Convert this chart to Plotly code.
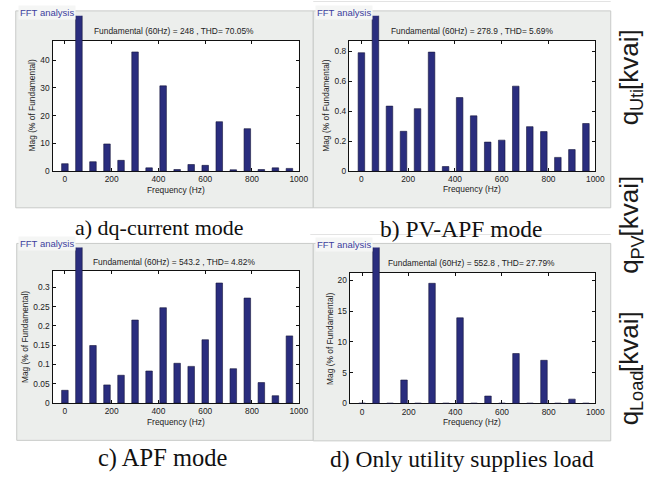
import plotly.graph_objects as go

W, H = 670, 479

# Harmonic orders shown in each FFT window (Hz)
freqs = [0, 60, 120, 180, 240, 300, 360, 420, 480, 540, 600, 660, 720, 780, 840, 900, 960]

# Magnitudes in % of the fundamental (the 60 Hz bar is the 100 % reference)
mag_dq = [2.7, 100, 3.4, 9.8, 3.9, 42.9, 1.2, 30.7, 0.6, 2.4, 2.1, 17.8, 0.5, 15.3, 0.6, 1.2, 1.0]
mag_pv = [0.79, 100, 0.434, 0.266, 0.417, 0.794, 0.031, 0.491, 0.369, 0.194, 0.207, 0.567,
          0.297, 0.264, 0.092, 0.144, 0.318]
mag_apf = [0.033, 100, 0.149, 0.047, 0.072, 0.215, 0.083, 0.247, 0.103, 0.095, 0.164, 0.311,
           0.089, 0.272, 0.053, 0.019, 0.174]
mag_load = [0.05, 100, 0.05, 3.8, 0.05, 19.5, 0.05, 13.9, 0.05, 1.2, 0.05, 8.1, 0.05, 7.0,
            0.05, 0.7, 0.05]

titles = [
    "Fundamental (60Hz) = 248 , THD= 70.05%",
    "Fundamental (60Hz) = 278.9 , THD= 5.69%",
    "Fundamental (60Hz) = 543.2 , THD= 4.82%",
    "Fundamental (60Hz) = 552.8 , THD= 27.79%",
]
captions = ["a) dq-current mode", "b) PV-APF mode", "c) APF mode", "d) Only utility supplies load"]
side_subs = ["Uti", "PV", "Load"]

x_ticks = [0, 200, 400, 600, 800, 1000]
y_ticks = [
    [0, 10, 20, 30, 40],
    [0, 0.2, 0.4, 0.6, 0.8],
    [0, 0.05, 0.1, 0.15, 0.2, 0.25, 0.3],
    [0, 5, 10, 15, 20],
]
y_tick_text = [
    ["0", "10", "20", "30", "40"],
    ["0", "0.2", "0.4", "0.6", "0.8"],
    ["0", "0.05", "0.1", "0.15", "0.2", "0.25", "0.3"],
    ["0", "5", "10", "15", "20"],
]
y_max = [47.0, 0.871, 0.3425, 21.2]
x_range = [-53, 1000]

series = [mag_dq, mag_pv, mag_apf, mag_load]

# ---- page geometry (pixels) ----
# gray window: left, right, top, bottom
windows = [(16, 318, 11, 210), (318, 620, 11, 210), (17, 318, 246, 445), (318, 620, 246, 445.5)]
# axes box: left, right, top, bottom, and top of the drawing area for bars
frames = [
    (53.3, 303.3, 41.0, 173.0, 16.0),
    (354.3, 604.3, 41.0, 173.0, 16.0),
    (53.3, 303.3, 273.7, 407.3, 250.0),
    (355.0, 604.3, 275.7, 407.7, 250.0),
]
label_pos = [(48, 12.5), (349, 12.5), (48, 246), (349, 247)]
title_pos = [(177, 31), (479, 31), (177, 264.3), (479, 265.3)]
ylab_pos = [(32, 107), (330.7, 107), (26, 341), (335, 342.5)]
xlab_pos = [(178.3, 191.7), (479.3, 191.0), (178.3, 426), (479.6, 426)]
cap_pos = [(162, 230), (468, 231), (165, 463), (469, 464)]
cap_size = [22, 23.5, 24.5, 23.5]
side_center_y = [78, 227, 372]
SIDE_X = 638.5
SIDE_SIZE = 26
SUB_SIZE = 18.2


def px(x):
    return x / W


def py(y):
    return 1 - y / H


def arial_width(s, size):
    # approximate Arial advance widths (per 1000 em)
    w = {"q": 556, "[": 278, "]": 278, "k": 500, "v": 500, "a": 556, "i": 222,
         "U": 722, "t": 278, "P": 667, "V": 667, "L": 556, "o": 556, "d": 556}
    return sum(w[c] for c in s) / 1000 * size


SANS = "Liberation Sans, Arial, sans-serif"
SERIF = "Liberation Serif, Times New Roman, serif"
BAR = "#2a2d7e"
PANEL = "#eceeec"

fig = go.Figure()
layout = dict(
    width=W, height=H,
    margin=dict(l=0, r=0, t=0, b=0),
    paper_bgcolor="white",
    plot_bgcolor="rgba(0,0,0,0)",
    showlegend=False,
    shapes=[], annotations=[],
)

# faint image borders
layout["shapes"].append(dict(type="line", xref="paper", yref="paper", layer="below",
                             x0=px(318), x1=px(620), y0=py(1.5), y1=py(1.5),
                             line=dict(color="#e3e3e3", width=1)))
layout["shapes"].append(dict(type="line", xref="paper", yref="paper", layer="below",
                             x0=px(315), x1=px(620), y0=py(237), y1=py(237),
                             line=dict(color="#e3e3e3", width=1)))

for i in range(4):
    k = i + 1
    xa = "x" if k == 1 else f"x{k}"
    ya_frame = "y" if k == 1 else f"y{k}"
    ya_bar = f"y{k + 4}"
    wl, wr, wt, wb = windows[i]
    fl, fr, ft, fb, bt = frames[i]

    # window background and axes box background
    layout["shapes"].append(dict(type="rect", xref="paper", yref="paper", layer="below",
                                 x0=px(wl), x1=px(wr), y0=py(wb), y1=py(wt),
                                 fillcolor=PANEL, line=dict(color="#c8cac8", width=1)))
    layout["shapes"].append(dict(type="rect", xref="paper", yref="paper", layer="below",
                                 x0=px(fl), x1=px(fr), y0=py(fb), y1=py(ft),
                                 fillcolor="white", line=dict(width=0)))

    axis_font = dict(family=SANS, size=8.4, color="#222")
    layout["xaxis" if k == 1 else f"xaxis{k}"] = dict(
        domain=[px(fl), px(fr)], range=x_range, anchor=ya_frame,
        tickmode="array", tickvals=x_ticks, ticktext=[str(t) for t in x_ticks],
        ticks="inside", ticklen=3, tickcolor="#111", mirror="ticks",
        showline=True, linecolor="#111", linewidth=1.3,
        showgrid=False, zeroline=False, tickfont=axis_font, fixedrange=True,
    )
    layout["yaxis" if k == 1 else f"yaxis{k}"] = dict(
        domain=[py(fb), py(ft)], range=[0, y_max[i]], anchor=xa,
        tickmode="array", tickvals=y_ticks[i], ticktext=y_tick_text[i],
        ticks="inside", ticklen=3, tickcolor="#111", mirror="ticks",
        showline=True, linecolor="#111", linewidth=1.3,
        showgrid=False, zeroline=False, tickfont=axis_font, fixedrange=True,
    )
    # taller value axis so the fundamental bar runs past the box top
    layout[f"yaxis{k + 4}"] = dict(
        domain=[py(fb), py(bt)], range=[0, y_max[i] * (fb - bt) / (fb - ft)], anchor=xa,
        showticklabels=False, ticks="", showline=False, showgrid=False, zeroline=False,
        fixedrange=True,
    )

    fig.add_trace(go.Scatter(x=[], y=[], xaxis=xa, yaxis=ya_frame, hoverinfo="skip"))
    fig.add_trace(go.Bar(
        x=freqs, y=series[i], width=28, xaxis=xa, yaxis=ya_bar,
        marker=dict(color=BAR, line=dict(color="#15153a", width=0.6)),
        hoverinfo="skip",
    ))

    lx, ly = label_pos[i]
    layout["annotations"].append(dict(
        text="FFT analysis", x=px(lx), y=py(ly), xref="paper", yref="paper",
        showarrow=False, xanchor="center", yanchor="middle",
        font=dict(family=SANS, size=9.5, color="#3d3f9e"),
        bgcolor="#f5f6f5", borderpad=1,
    ))
    tx, ty = title_pos[i]
    layout["annotations"].append(dict(
        text=titles[i], x=px(tx), y=py(ty), xref="paper", yref="paper",
        showarrow=False, xanchor="center", yanchor="middle",
        font=dict(family=SANS, size=8.4, color="#222"),
    ))
    yx, yy = ylab_pos[i]
    layout["annotations"].append(dict(
        text="Mag (% of Fundamental)", x=px(yx), y=py(yy), xref="paper", yref="paper",
        showarrow=False, xanchor="center", yanchor="middle", textangle=-90,
        font=dict(family=SANS, size=8.4, color="#222"),
    ))
    xx, xy = xlab_pos[i]
    layout["annotations"].append(dict(
        text="Frequency (Hz)", x=px(xx), y=py(xy), xref="paper", yref="paper",
        showarrow=False, xanchor="center", yanchor="middle",
        font=dict(family=SANS, size=8.4, color="#222"),
    ))
    cx, cy = cap_pos[i]
    layout["annotations"].append(dict(
        text=captions[i], x=px(cx), y=py(cy), xref="paper", yref="paper",
        showarrow=False, xanchor="center", yanchor="middle",
        font=dict(family=SERIF, size=cap_size[i], color="#111"),
    ))

# vertical quantity labels on the right: "q", subscript, "[kvai]" reading upward
for sub, cy in zip(side_subs, side_center_y):
    parts = [("q", SIDE_SIZE, 0.0), (sub, SUB_SIZE, 8.2), ("[kvai]", SIDE_SIZE, 0.0)]
    total = sum(arial_width(t, s) for t, s, _ in parts)
    pos = cy + total / 2  # bottom end of the label
    for t, s, dx in parts:
        w = arial_width(t, s)
        layout["annotations"].append(dict(
            text=t, x=px(SIDE_X + dx), y=py(pos - w / 2), xref="paper", yref="paper",
            showarrow=False, xanchor="center", yanchor="middle", textangle=-90,
            font=dict(family=SANS, size=s, color="#1a1a1a"),
        ))
        pos -= w

fig.update_layout(**layout)
fig.write_html("out.html")
